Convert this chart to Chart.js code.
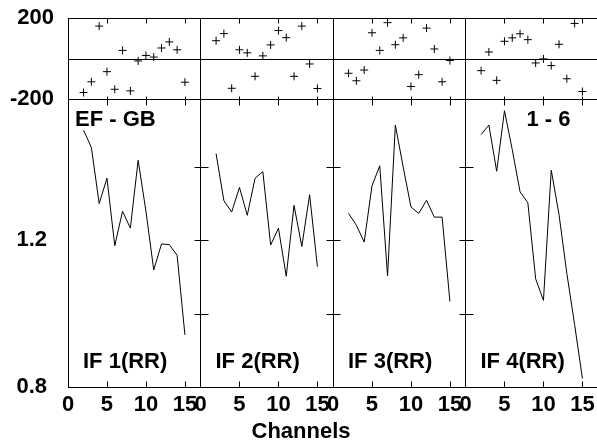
<!DOCTYPE html>
<html>
<head>
<meta charset="utf-8">
<script src="https://cdn.jsdelivr.net/npm/chart.js@4.4.0/dist/chart.umd.min.js"></script>
<style>
  html, body { margin: 0; padding: 0; background: #fff; }
  #wrap { width: 597px; height: 440px; overflow: hidden; }
</style>
</head>
<body>
<div id="wrap"><canvas id="c" width="603" height="440"></canvas></div>
<script>
// channel numbers shared by all four IF panels
const channels = [2, 3, 4, 5, 6, 7, 8, 9, 10, 11, 12, 13, 14, 15];

// phase (deg), upper strip
const phase1 = [-168, -115, 160, -65, -152, 40, -160, -12, 15, 7, 52, 82, 43, -117];
const phase2 = [88, 123, -147, 43, 28, -88, 13, 67, 138, 103, -88, 160, -27, -148];
const phase3 = [-73, -110, -57, 127, 40, 177, 68, 102, -138, -80, 150, 47, -115, -10];
const phase4 = [-60, 32, -108, 85, 102, 122, 93, -22, -2, -35, 70, -100, 173, -163];

// amplitude, lower strip
const amp1 = [1.50, 1.453, 1.30, 1.369, 1.185, 1.279, 1.233, 1.418, 1.279, 1.119, 1.19, 1.188, 1.159, 0.942];
const amp2 = [1.436, 1.308, 1.277, 1.344, 1.268, 1.369, 1.387, 1.187, 1.233, 1.102, 1.295, 1.183, 1.324, 1.128];
const amp3 = [1.273, 1.241, 1.195, 1.348, 1.403, 1.103, 1.514, 1.40, 1.291, 1.273, 1.309, 1.263, 1.263, 1.033];
const amp4 = [1.488, 1.514, 1.388, 1.553, 1.447, 1.332, 1.302, 1.095, 1.036, 1.391, 1.27, 1.11, 0.97, 0.823];

const xTicks = [0, 5, 10, 15];
const phaseTicks = [-200, 0, 200];
const phaseTickLabels = ['-200', '', '200'];
const ampTicks = [0.8, 1.0, 1.2, 1.4];
const ampTickLabels = ['0.8', '', '1.2', ''];

const panelNames = ['IF 1(RR)', 'IF 2(RR)', 'IF 3(RR)', 'IF 4(RR)'];
const baselineName = 'EF - GB';
const sourceName = '1 - 6';
const xTitle = 'Channels';

const ink = '#000';
const phases = [phase1, phase2, phase3, phase4];
const amps = [amp1, amp2, amp3, amp4];
const xIds = ['x1', 'x2', 'x3', 'x4'];

Chart.defaults.font.family = "'Liberation Sans', Arial, sans-serif";
Chart.defaults.font.size = 22;
Chart.defaults.font.weight = 'bold';
Chart.defaults.color = ink;

const datasets = [];
xIds.forEach((id, i) => {
    datasets.push({
        label: 'phase ' + (i + 1),
        data: channels.map((c, k) => ({ x: c, y: phases[i][k] })),
        xAxisID: id,
        yAxisID: 'yPhase',
        showLine: false,
        pointStyle: 'cross',
        pointRadius: 4,
        borderColor: ink,
        borderWidth: 1
    });
    datasets.push({
        label: 'amp ' + (i + 1),
        data: channels.map((c, k) => ({ x: c, y: amps[i][k] })),
        xAxisID: id,
        yAxisID: 'yAmp',
        showLine: true,
        pointRadius: 0,
        borderColor: ink,
        borderWidth: 1,
        tension: 0
    });
});

function xScale() {
    return {
        type: 'linear',
        position: 'bottom',
        stack: 'chan',
        stackWeight: 1,
        min: 0,
        max: 17,
        afterBuildTicks: s => { s.ticks = xTicks.map(v => ({ value: v })); },
        afterFit: s => { s.height = 53; s.paddingLeft = 0; s.paddingRight = 0; },
        grid: {
            drawTicks: false,
            color: ctx => (ctx.tick && ctx.tick.value === 0) ? ink : 'transparent'
        },
        border: { display: true, color: ink },
        ticks: { padding: 5, autoSkip: false, maxRotation: 0, callback: v => String(v) }
    };
}

const scales = {
    yAmp: {
        type: 'linear',
        position: 'left',
        stack: 'rows',
        stackWeight: 288,
        min: 0.8,
        max: 1.585,
        afterBuildTicks: s => { s.ticks = ampTicks.map(v => ({ value: v })); },
        afterFit: s => { s.width = 68; s.paddingTop = 0; s.paddingBottom = 0; },
        grid: { display: false },
        border: { color: ink },
        ticks: { padding: 13, callback: (v, i) => ampTickLabels[i] }
    },
    yPhase: {
        type: 'linear',
        position: 'left',
        stack: 'rows',
        stackWeight: 81,
        min: -200,
        max: 200,
        afterBuildTicks: s => { s.ticks = phaseTicks.map(v => ({ value: v })); },
        afterFit: s => { s.width = 68; s.paddingTop = 0; s.paddingBottom = 0; },
        grid: { display: false },
        border: { color: ink },
        ticks: { padding: 6, callback: (v, i) => phaseTickLabels[i] }
    }
};
xIds.forEach(id => { scales[id] = xScale(); });

// frame lines, inward tick marks and the panel captions
const frameMarks = {
    id: 'frameMarks',
    afterDraw(chart) {
        const { ctx, chartArea } = chart;
        const yP = chart.scales.yPhase, yA = chart.scales.yAmp;
        const top = Math.round(yP.getPixelForValue(200)) + 0.5;
        const zero = Math.round(yP.getPixelForValue(0)) + 0.5;
        const mid = Math.round(yP.getPixelForValue(-200)) + 0.5;
        const bot = Math.round(yA.getPixelForValue(0.8)) + 0.5;
        ctx.save();
        ctx.strokeStyle = ink;
        ctx.lineWidth = 1;
        ctx.beginPath();
        [top, zero, mid, bot].forEach(py => {
            ctx.moveTo(chartArea.left, py); ctx.lineTo(chartArea.right, py);
        });
        xIds.forEach((id, i) => {
            const sx = chart.scales[id];
            xTicks.forEach(v => {
                if (v === 0) return;
                const px = Math.round(sx.getPixelForValue(v)) + 0.5;
                ctx.moveTo(px, top); ctx.lineTo(px, top + 5);
                ctx.moveTo(px, mid - 3); ctx.lineTo(px, mid + 6);
                ctx.moveTo(px, bot); ctx.lineTo(px, bot - 6);
            });
            if (i > 0) {
                const bx = Math.round(sx.getPixelForValue(0)) + 0.5;
                ampTicks.forEach(v => {
                    if (v === 0.8) return;
                    const py = Math.round(yA.getPixelForValue(v)) + 0.5;
                    ctx.moveTo(bx - 7, py); ctx.lineTo(bx + 7, py);
                });
            }
        });
        ctx.stroke();

        ctx.fillStyle = ink;
        ctx.font = "bold 22px 'Liberation Sans', Arial, sans-serif";
        ctx.textBaseline = 'alphabetic';
        ctx.textAlign = 'left';
        xIds.forEach((id, i) => {
            ctx.fillText(panelNames[i], chart.scales[id].left + 15, chartArea.bottom - 19);
        });
        ctx.fillText(baselineName, chart.scales.x1.left + 7, yP.bottom + 27);
        ctx.textAlign = 'right';
        ctx.fillText(sourceName, chart.scales.x4.left + 105, yP.bottom + 27);
        ctx.textAlign = 'center';
        ctx.fillText(xTitle, 301, 438);
        ctx.restore();
    }
};

new Chart(document.getElementById('c').getContext('2d'), {
    type: 'scatter',
    data: { datasets: datasets },
    options: {
        responsive: false,
        animation: false,
        layout: { padding: { top: 18, right: 1, left: 0, bottom: 0 } },
        plugins: {
            legend: { display: false },
            tooltip: { enabled: false }
        },
        scales: scales
    },
    plugins: [frameMarks]
});
</script>
</body>
</html>
